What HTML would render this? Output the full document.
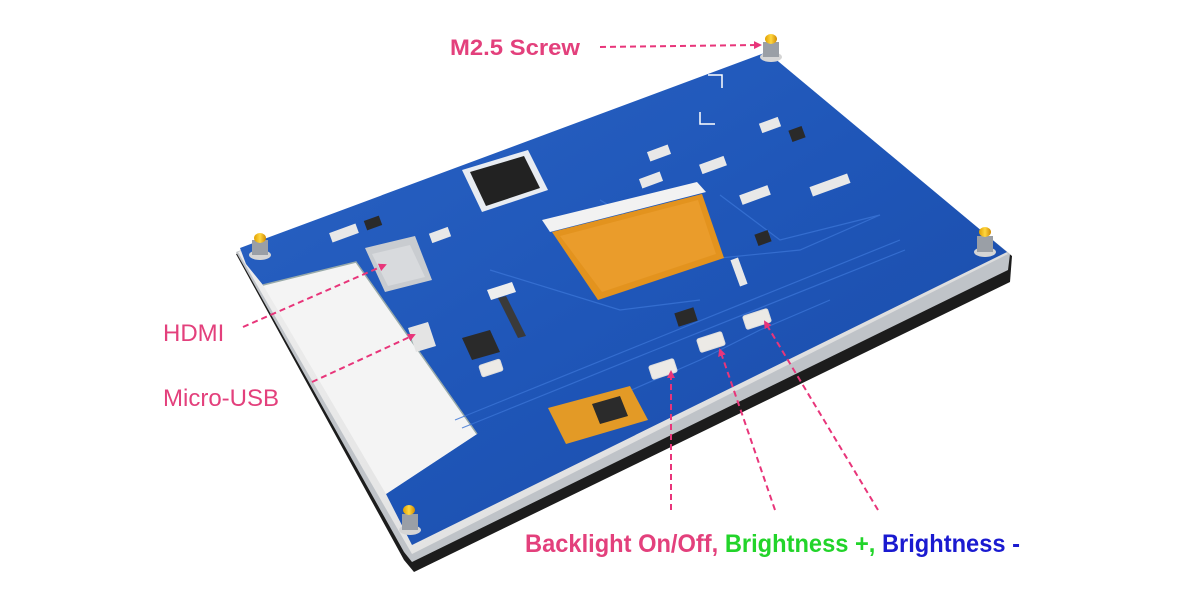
<!DOCTYPE html>
<html><head><meta charset="utf-8"><style>
html,body{margin:0;padding:0;background:#fff;}
svg{display:block;}
</style></head><body>
<svg width="1200" height="600" viewBox="0 0 1200 600" xmlns="http://www.w3.org/2000/svg">
<defs>
<linearGradient id="blue" x1="0" y1="0" x2="1" y2="1">
<stop offset="0" stop-color="#2a63c4"/><stop offset="0.5" stop-color="#1f56b8"/><stop offset="1" stop-color="#1a4aa6"/>
</linearGradient>
<linearGradient id="silver" x1="0" y1="0" x2="1" y2="1">
<stop offset="0" stop-color="#f2f2f2"/><stop offset="0.6" stop-color="#e4e4e4"/><stop offset="1" stop-color="#c8c8c8"/>
</linearGradient>
<linearGradient id="gold" x1="0" y1="0" x2="1" y2="0">
<stop offset="0" stop-color="#e0a000"/><stop offset="0.5" stop-color="#ffd640"/><stop offset="1" stop-color="#d08a00"/>
</linearGradient>
<marker id="ar" markerWidth="8" markerHeight="8" refX="6" refY="4" orient="auto" markerUnits="userSpaceOnUse">
<path d="M0,0 L8,4 L0,8 z" fill="#e8357a"/>
</marker>
</defs>

<!-- frame / screen layers -->
<polygon points="236,254 767,58 1012,256 1010,282 414,572 404,560" fill="#1c1c1c"/>
<polygon points="236,252 767,56 1010,254 1008,270 412,562 404,552" fill="#bfc3c8"/>
<polygon points="238,252 767,57 1008,254 412,554" fill="url(#silver)"/>
<!-- blue board -->
<polygon points="240,248 767,52 1007,252 412,545 386,494 477,434 356,262 263,285 246,264" fill="url(#blue)"/>
<!-- silver notch inner shade -->
<polygon points="263,285 356,262 477,434 386,494" fill="#f4f4f4"/>
<polyline points="263,285 356,262 477,434" fill="none" stroke="#9aa" stroke-width="1.5"/>

<!-- traces -->
<g stroke="#3a74d6" stroke-width="1.2" fill="none" opacity="0.8">
<polyline points="455,420 640,345 900,240"/>
<polyline points="462,428 650,352 905,250"/>
<polyline points="600,200 700,260 800,250 880,215"/>
<polyline points="720,195 780,240 880,215"/>
<polyline points="490,270 620,310 700,300"/>
<polyline points="620,395 700,360 760,330 830,300"/>
</g>

<!-- main chip -->
<polygon points="462,170 528,150 548,190 482,212" fill="#e8ecf2"/>
<polygon points="470,172 524,156 540,188 486,206" fill="#222"/>
<!-- ribbon connector -->
<polygon points="542,220 697,182 706,192 550,232" fill="#f2f2f2"/>
<polygon points="552,232 702,194 724,258 598,300" fill="#e3931e"/>
<polygon points="560,236 698,200 716,254 602,292" fill="#eda030" opacity="0.7"/>
<!-- HDMI connector -->
<polygon points="365,248 415,236 432,280 385,292" fill="#c9ccd0"/>
<polygon points="372,254 410,245 425,277 388,286" fill="#d8dadd"/>
<!-- micro usb -->
<polygon points="408,328 428,322 436,346 416,352" fill="#e4e4e4"/>
<!-- small chip -->
<polygon points="462,338 490,330 500,352 472,360" fill="#2a2a2a"/>
<!-- small FPC -->
<polygon points="487,290 512,282 516,292 491,300" fill="#eee"/>
<polygon points="498,298 506,296 526,336 518,338" fill="#3a3a3a"/>
<!-- touch chip -->
<polygon points="548,408 630,386 648,420 566,444" fill="#e39a26"/>
<polygon points="592,404 620,396 628,416 600,424" fill="#2b2b2b"/>
<!-- buttons -->
<g fill="#eceae6" stroke="#ddd">
<rect x="650" y="362" width="26" height="14" rx="2" transform="rotate(-18 663 369)"/>
<rect x="698" y="335" width="26" height="14" rx="2" transform="rotate(-18 711 342)"/>
<rect x="744" y="312" width="26" height="14" rx="2" transform="rotate(-18 757 319)"/>
<rect x="480" y="362" width="22" height="12" rx="2" transform="rotate(-18 491 368)"/>
</g>
<!-- misc SMD parts -->
<g fill="#e8e8e8">
<rect x="330" y="228" width="28" height="10" transform="rotate(-20 344 233)"/>
<rect x="648" y="148" width="22" height="10" transform="rotate(-20 659 153)"/>
<rect x="760" y="120" width="20" height="10" transform="rotate(-20 770 125)"/>
<rect x="740" y="190" width="30" height="10" transform="rotate(-20 755 195)"/>
<rect x="810" y="180" width="40" height="10" transform="rotate(-20 830 185)"/>
<rect x="735" y="258" width="8" height="28" transform="rotate(-20 739 272)"/>
<rect x="700" y="160" width="26" height="10" transform="rotate(-20 713 165)"/>
<rect x="430" y="230" width="20" height="10" transform="rotate(-20 440 235)"/>
<rect x="640" y="175" width="22" height="10" transform="rotate(-20 651 180)"/>
</g>
<g fill="#2a2a2a">
<rect x="790" y="128" width="14" height="12" transform="rotate(-20 797 134)"/>
<rect x="756" y="232" width="14" height="12" transform="rotate(-20 763 238)"/>
<rect x="676" y="310" width="20" height="14" transform="rotate(-18 686 317)"/>
<rect x="365" y="218" width="16" height="10" transform="rotate(-20 373 223)"/>
</g>
<!-- corner marks -->
<polyline points="708,75 722,75 722,88" fill="none" stroke="#fff" stroke-width="1.5"/>
<polyline points="700,112 700,124 715,124" fill="none" stroke="#fff" stroke-width="1.5"/>

<!-- standoffs -->
<g>
<ellipse cx="260" cy="255" rx="11" ry="5" fill="#d5d5d5"/><rect x="252" y="240" width="16" height="15" fill="#9a9fa6"/><ellipse cx="260" cy="238" rx="6" ry="5" fill="url(#gold)"/>
<ellipse cx="771" cy="57" rx="11" ry="5" fill="#d5d5d5"/><rect x="763" y="42" width="16" height="15" fill="#9a9fa6"/><ellipse cx="771" cy="39" rx="6" ry="5" fill="url(#gold)"/>
<ellipse cx="985" cy="252" rx="11" ry="5" fill="#d5d5d5"/><rect x="977" y="236" width="16" height="16" fill="#9a9fa6"/><ellipse cx="985" cy="232" rx="6" ry="5" fill="url(#gold)"/>
<ellipse cx="410" cy="530" rx="11" ry="5" fill="#d5d5d5"/><rect x="402" y="514" width="16" height="16" fill="#9a9fa6"/><ellipse cx="409" cy="510" rx="6" ry="5" fill="url(#gold)"/>
</g>

<!-- dashed leaders -->
<g stroke="#e8357a" stroke-width="2" stroke-dasharray="6,4" fill="none">
<line x1="600" y1="47" x2="760" y2="45" marker-end="url(#ar)"/>
<line x1="243" y1="327" x2="385" y2="265" marker-end="url(#ar)"/>
<line x1="312" y1="382" x2="414" y2="335" marker-end="url(#ar)"/>
<line x1="671" y1="510" x2="671" y2="372" marker-end="url(#ar)"/>
<line x1="775" y1="510" x2="720" y2="350" marker-end="url(#ar)"/>
<line x1="878" y1="510" x2="765" y2="322" marker-end="url(#ar)"/>
</g>

<!-- labels -->
<g font-family="Liberation Sans, Arial, sans-serif">
<text x="450" y="55" font-size="22" font-weight="bold" fill="#e3407c" textLength="130" lengthAdjust="spacingAndGlyphs">M2.5 Screw</text>
<text x="163" y="341" font-size="24" fill="#e3407c">HDMI</text>
<text x="163" y="406" font-size="24" fill="#e3407c">Micro-USB</text>
<text x="525" y="552" font-size="25" font-weight="bold" textLength="495" lengthAdjust="spacingAndGlyphs"><tspan fill="#e3407c">Backlight On/Off, </tspan><tspan fill="#22d42a">Brightness +, </tspan><tspan fill="#1a1ad0">Brightness -</tspan></text>
</g>
</svg>
</body></html>
